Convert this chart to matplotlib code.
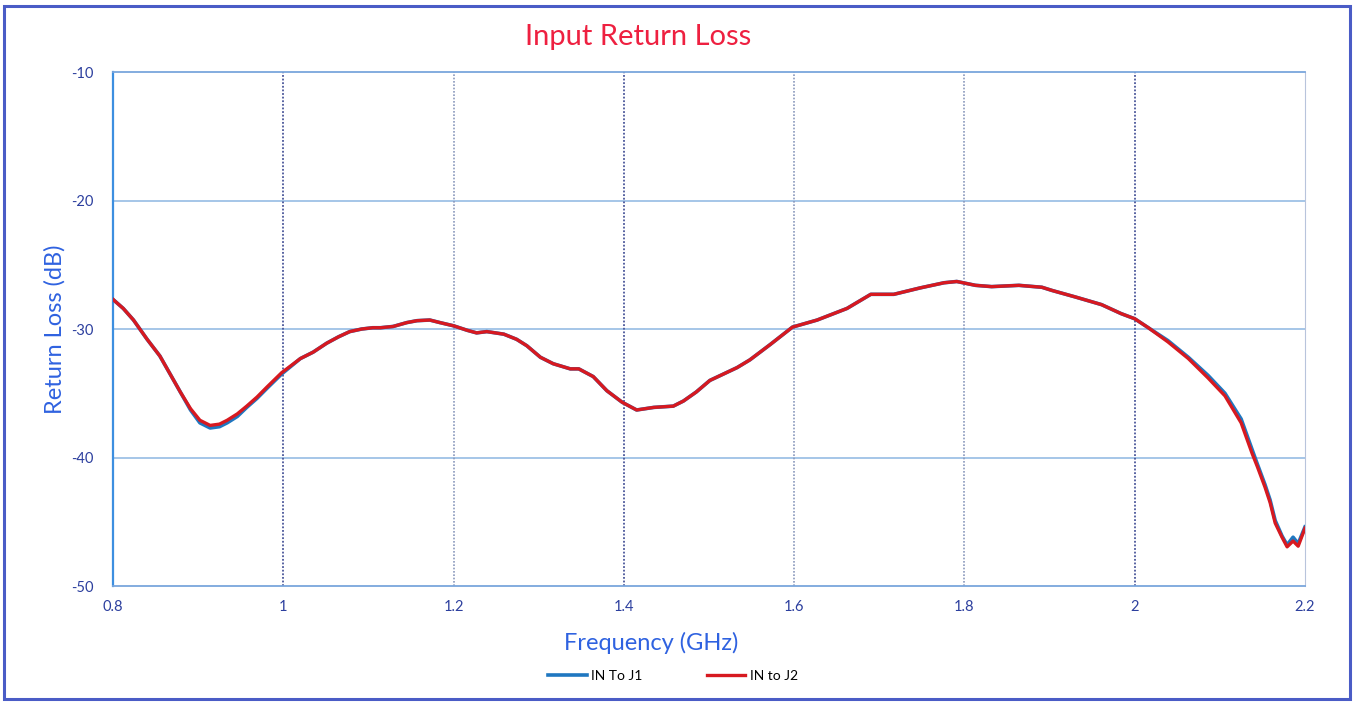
import matplotlib
matplotlib.use("Agg")
import matplotlib.pyplot as plt
from matplotlib.patches import Rectangle

plt.rcParams['font.family'] = ['Lato', 'DejaVu Sans']

freq_ghz = [0.800, 0.812, 0.824, 0.840, 0.855, 0.867, 0.879, 0.891, 0.902, 0.914,
            0.925, 0.934, 0.946, 0.957, 0.969, 0.981, 0.998, 1.020, 1.035, 1.051,
            1.065, 1.078, 1.092, 1.105, 1.114, 1.129, 1.145, 1.157, 1.172, 1.184,
            1.200, 1.216, 1.227, 1.239, 1.259, 1.274, 1.286, 1.302, 1.317, 1.337,
            1.347, 1.364, 1.380, 1.398, 1.415, 1.435, 1.458, 1.470, 1.485, 1.501,
            1.517, 1.533, 1.548, 1.572, 1.598, 1.627, 1.662, 1.690, 1.717, 1.748,
            1.776, 1.791, 1.813, 1.832, 1.864, 1.891, 1.903, 1.930, 1.961, 1.984,
            2.000, 2.016, 2.039, 2.063, 2.086, 2.106, 2.125, 2.138, 2.144, 2.153,
            2.159, 2.165, 2.173, 2.179, 2.186, 2.192, 2.200]

in_to_j2 = [-27.7, -28.4, -29.3, -30.8, -32.1, -33.5, -34.9, -36.2, -37.1, -37.5,
            -37.4, -37.1, -36.6, -36.0, -35.3, -34.5, -33.4, -32.3, -31.8, -31.1,
            -30.6, -30.2, -30.0, -29.9, -29.9, -29.8, -29.5, -29.35, -29.3, -29.5,
            -29.75, -30.1, -30.3, -30.2, -30.4, -30.8, -31.3, -32.2, -32.7, -33.1,
            -33.1, -33.7, -34.8, -35.7, -36.3, -36.1, -36.0, -35.6, -34.9, -34.0,
            -33.5, -33.0, -32.4, -31.2, -29.85, -29.3, -28.4, -27.3, -27.3, -26.8,
            -26.4, -26.3, -26.6, -26.7, -26.6, -26.75, -27.0, -27.5, -28.1, -28.8,
            -29.2, -29.9, -31.0, -32.3, -33.8, -35.2, -37.3, -39.7, -40.7, -42.3,
            -43.5, -45.1, -46.2, -46.95, -46.5, -46.9, -45.5]

in_to_j1 = [-27.7, -28.4, -29.3, -30.8, -32.1, -33.5, -34.9, -36.3, -37.3, -37.7,
            -37.6, -37.3, -36.8, -36.1, -35.4, -34.6, -33.5, -32.3, -31.8, -31.1,
            -30.6, -30.2, -30.0, -29.9, -29.9, -29.8, -29.5, -29.35, -29.3, -29.5,
            -29.75, -30.1, -30.3, -30.2, -30.4, -30.8, -31.3, -32.2, -32.7, -33.1,
            -33.1, -33.7, -34.8, -35.7, -36.3, -36.1, -36.0, -35.6, -34.9, -34.0,
            -33.5, -33.0, -32.4, -31.2, -29.85, -29.3, -28.4, -27.3, -27.3, -26.8,
            -26.4, -26.3, -26.6, -26.7, -26.6, -26.75, -27.0, -27.5, -28.1, -28.8,
            -29.2, -29.9, -30.9, -32.2, -33.6, -35.0, -37.0, -39.4, -40.5, -42.1,
            -43.3, -44.9, -46.1, -46.8, -46.2, -46.7, -45.4]

x_ticks = [0.8, 1.0, 1.2, 1.4, 1.6, 1.8, 2.0, 2.2]
x_tick_labels = ['0.8', '1', '1.2', '1.4', '1.6', '1.8', '2', '2.2']
y_ticks = [-50, -40, -30, -20, -10]
y_tick_labels = ['-50', '-40', '-30', '-20', '-10']

fig = plt.figure(figsize=(13.54, 7.02), dpi=100)
ax = fig.add_axes([0.0835, 0.1652, 0.8803, 0.7322])

# outer frame
fig.patches.append(Rectangle((0.003, 0.004), 0.994, 0.988, transform=fig.transFigure,
                             fill=False, edgecolor='#4a5cc6', linewidth=2.2))

ax.set_xlim(0.8, 2.2)
ax.set_ylim(-50, -10)

# grid
for y in [-40, -30, -20]:
    ax.axhline(y, color='#8db6e2', lw=1.1, zorder=1)
dark_v = [1.0, 1.4, 2.0]
light_v = [1.2, 1.6, 1.8]
for x in dark_v:
    ax.axvline(x, color='#4a569a', lw=1.3, ls=(0, (1, 1)), zorder=1)
for x in light_v:
    ax.axvline(x, color='#8a98bc', lw=1.2, ls=(0, (1, 1)), zorder=1)

l1, = ax.plot(freq_ghz, in_to_j1, color='#1f77c0', lw=2.6, label='IN To J1', zorder=3)
l2, = ax.plot(freq_ghz, in_to_j2, color='#d71920', lw=2.4, label='IN to J2', zorder=4)

ax.spines['left'].set_color('#3d8fe0')
ax.spines['left'].set_linewidth(1.6)
ax.spines['top'].set_color('#7aa6dc')
ax.spines['top'].set_linewidth(1.3)
ax.spines['bottom'].set_color('#7aa6dc')
ax.spines['bottom'].set_linewidth(1.3)
ax.spines['right'].set_color('#b8c4dc')
ax.spines['right'].set_linestyle((0, (1, 1)))

ax.set_xticks(x_ticks)
ax.set_xticklabels(x_tick_labels)
ax.set_yticks(y_ticks)
ax.set_yticklabels(y_tick_labels)
ax.tick_params(length=0, labelsize=10.5, labelcolor='#2c3f9e', pad=10)
ax.tick_params(axis='y', pad=14)

ax.set_ylabel('Return Loss (dB)', fontsize=17, color='#2f62e0', labelpad=4)
fig.text(0.481, 0.084, 'Frequency (GHz)', fontsize=17, color='#2f62e0',
         ha='center', va='center')
fig.text(0.471, 0.947, 'Input Return Loss', fontsize=21, color='#ee2040',
         ha='center', va='center')

fig.legend(handles=[l1, l2], loc='center', bbox_to_anchor=(0.497, 0.037), ncol=2,
           frameon=False, fontsize=10, handlelength=2.8, columnspacing=4.6,
           handletextpad=0.3)

fig.savefig('out.png', dpi=100)
